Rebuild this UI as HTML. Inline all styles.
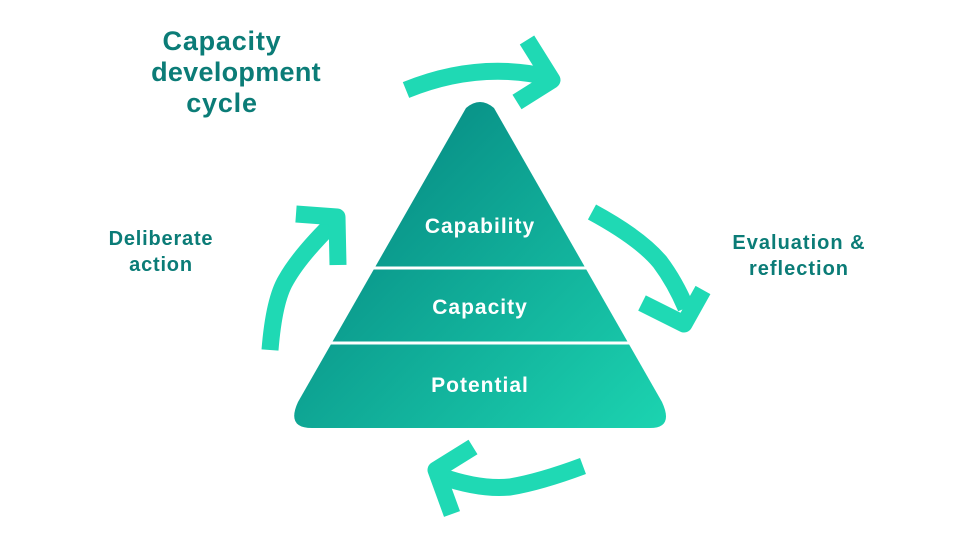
<!DOCTYPE html>
<html><head><style>
body{margin:0;width:960px;height:540px;background:#fff;overflow:hidden;font-family:"Liberation Sans",sans-serif}
svg{position:absolute;left:0;top:0}
</style></head><body>
<svg width="960" height="540" viewBox="0 0 960 540">
<defs>
<linearGradient id="g" x1="0" y1="0" x2="1" y2="1" gradientUnits="userSpaceOnUse" gradientTransform="translate(380,150) scale(300,300)">
<stop offset="0" stop-color="#088f86"/><stop offset="1" stop-color="#1dd8b3"/>
</linearGradient>
</defs>
<path d="M466,108 Q480,96 494,108 L662,402 Q674,428 650,428 L312,428 Q286,428 298,402 Z" fill="url(#g)"/>
<line x1="300" y1="268" x2="660" y2="268" stroke="#fff" stroke-width="3"/>
<line x1="300" y1="343" x2="660" y2="343" stroke="#fff" stroke-width="3"/>
<g fill="none" stroke="#1fd9b4" stroke-width="17" stroke-linejoin="round">
<path d="M406,90 Q480,60 552,78"/>
<path d="M527,40 L552,80 L517,102"/>
<path d="M592,212 Q640,238 660,262 Q675,282 686,308"/>
<path d="M642,303 L684,324 L703,290"/>
<path d="M583,466 Q540,482 510,487 Q480,490 440,476"/>
<path d="M473,447 L436,470 L452,514"/>
<path d="M270,350 Q274,300 286,280 Q300,255 336,220"/>
<path d="M296,214 L337,217 L338,265"/>
</g>
<g font-family="Liberation Sans,sans-serif" font-weight="bold" text-anchor="middle">
<text x="222" y="50" font-size="27" letter-spacing="0.8" fill="#0b7c77">Capacity</text>
<text x="236" y="81" font-size="27" letter-spacing="0.3" fill="#0b7c77">development</text>
<text x="222" y="112" font-size="27" letter-spacing="0.8" fill="#0b7c77">cycle</text>
<text x="161" y="245" font-size="20" letter-spacing="0.8" fill="#0b7c77">Deliberate</text>
<text x="161" y="271" font-size="20" letter-spacing="0.8" fill="#0b7c77">action</text>
<text x="799" y="249" font-size="20" letter-spacing="1" fill="#0b7c77">Evaluation &amp;</text>
<text x="799" y="275" font-size="20" letter-spacing="1" fill="#0b7c77">reflection</text>
<text x="480" y="233" font-size="21" letter-spacing="1" fill="#fff">Capability</text>
<text x="480" y="314" font-size="21" letter-spacing="1" fill="#fff">Capacity</text>
<text x="480" y="392" font-size="21" letter-spacing="1" fill="#fff">Potential</text>
</g>
</svg>
</body></html>
